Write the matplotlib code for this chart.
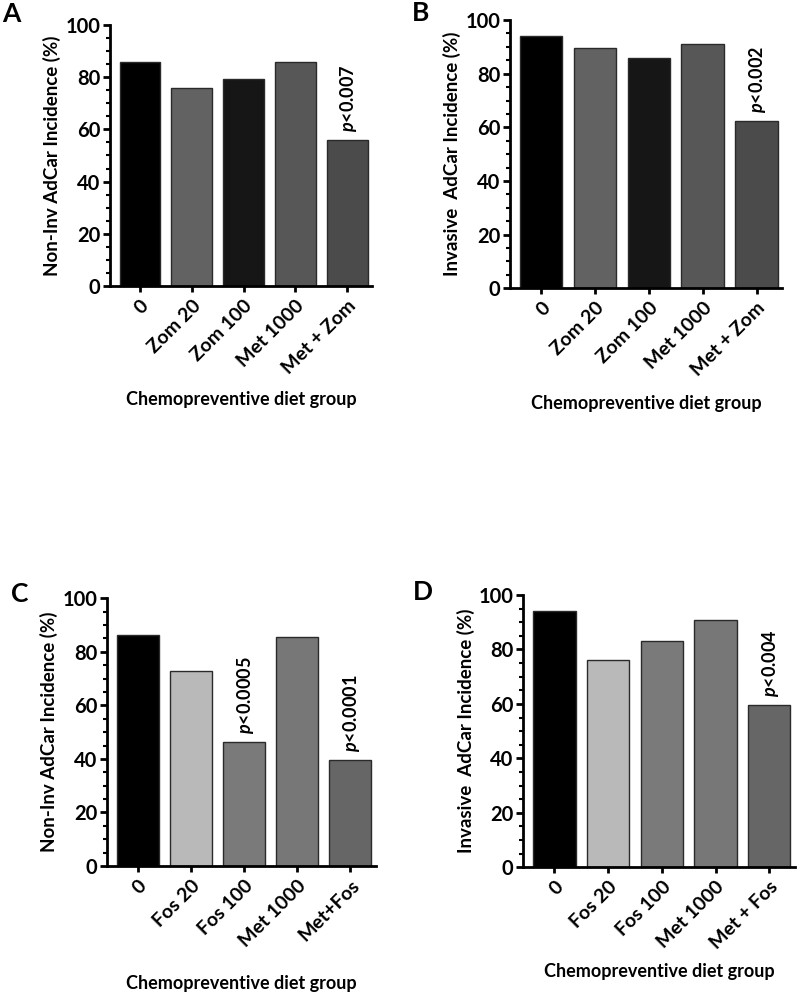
import numpy as np
import matplotlib
matplotlib.use("Agg")
import matplotlib.pyplot as plt
from matplotlib.ticker import MultipleLocator

plt.rcParams['font.family'] = ['Lato', 'DejaVu Sans']
plt.rcParams['font.weight'] = 'bold'
plt.rcParams['mathtext.fontset'] = 'custom'
plt.rcParams['mathtext.it'] = 'Lato:italic:bold'
plt.rcParams['mathtext.rm'] = 'Lato:bold'

################ datos ################
groups_zom = ["0", "Zom 20", "Zom 100", "Met 1000", "Met + Zom"]
groups_fos_c = ["0", "Fos 20", "Fos 100", "Met 1000", "Met+Fos"]
groups_fos_d = ["0", "Fos 20", "Fos 100", "Met 1000", "Met + Fos"]

noninv_zom = [86, 76, 79.5, 86, 56]
inv_zom = [94, 89.5, 86, 91, 62.5]
noninv_fos = [86.2, 73, 46.3, 85.7, 39.6]
inv_fos = [94, 76, 83, 91, 59.5]

colors_zom = ["#000000", "#626262", "#161616", "#575757", "#4b4b4b"]
colors_fos = ["#000000", "#b9b9b9", "#7a7a7a", "#777777", "#666666"]

pvals_a = {4: "p<0.007"}
pvals_b = {4: "p<0.002"}
pvals_c = {2: "p<0.0005", 4: "p<0.0001"}
pvals_d = {4: "p<0.004"}

ylabel_noninv = "Non-Inv AdCar Incidence (%)"
ylabel_inv = "Invasive  AdCar Incidence (%)"
xlabel = "Chemopreventive diet group"


def bar_panel(fig, rect, letter, letter_xy, groups, values, colors, pvals, ylabel, xlabel_y):
    ax = fig.add_axes(rect)
    x = np.arange(len(groups))
    ax.bar(x, values, width=0.79, color=colors, edgecolor="#2a2a2a", linewidth=1.0)
    ax.set_xlim(-0.58, 4.48)
    ax.set_ylim(0, 100)
    ax.spines[['top', 'right']].set_visible(False)
    ax.spines[['left', 'bottom']].set_linewidth(2)
    ax.set_yticks([0, 20, 40, 60, 80, 100])
    ax.yaxis.set_minor_locator(MultipleLocator(5))
    ax.tick_params(axis='y', which='major', length=5, width=2, labelsize=14.5, pad=2)
    ax.tick_params(axis='y', which='minor', length=3, width=1.5)
    ax.tick_params(axis='x', length=4, width=2, labelsize=14, pad=4)
    ax.set_xticks(x)
    ax.set_xticklabels(groups, rotation=45, ha='right', rotation_mode='anchor')
    for lab in ax.get_xticklabels() + ax.get_yticklabels():
        lab.set_fontweight('bold')
    ax.set_ylabel(ylabel, fontsize=13.5, fontweight='bold', labelpad=3)
    # etiqueta del eje x, bastante separada
    ax.text(0.5, xlabel_y, xlabel, transform=ax.transAxes, ha='center', va='center',
            fontsize=13, fontweight='bold')
    for i, p in pvals.items():
        ax.text(x[i] + 0.02, values[i] + 3, r"$\it{p}$" + p[1:], rotation=90,
                ha='center', va='bottom', fontsize=13, fontweight='bold')
    fig.text(letter_xy[0], letter_xy[1], letter, fontsize=19, fontweight='bold',
             ha='left', va='center')
    return ax


fig = plt.figure(figsize=(8, 9.92), dpi=100)

bar_panel(fig, [0.1375, 0.7117, 0.3275, 0.2631], "A", (0.003, 0.986),
          groups_zom, noninv_zom, colors_zom, pvals_a, ylabel_noninv, -0.435)
bar_panel(fig, [0.6375, 0.7094, 0.3405, 0.2704], "B", (0.515, 0.987),
          groups_zom, inv_zom, colors_zom, pvals_b, ylabel_inv, -0.43)
bar_panel(fig, [0.1338, 0.1270, 0.3362, 0.2699], "C", (0.014, 0.401),
          groups_fos_c, noninv_fos, colors_fos, pvals_c, ylabel_noninv, -0.44)
bar_panel(fig, [0.6541, 0.1257, 0.3397, 0.2745], "D", (0.516, 0.403),
          groups_fos_d, inv_fos, colors_fos, pvals_d, ylabel_inv, -0.382)

fig.savefig("out.png", dpi=100)
